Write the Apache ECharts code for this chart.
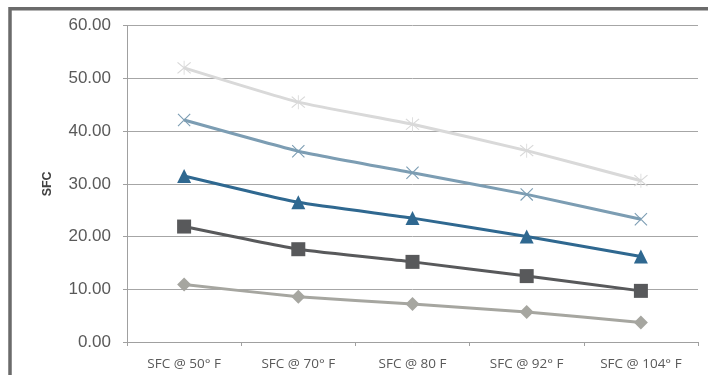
<!DOCTYPE html>
<html>
<head>
<meta charset="utf-8">
<script src="https://cdn.jsdelivr.net/npm/echarts@6/dist/echarts.min.js"></script>
<style>
  html, body { margin: 0; padding: 0; background: #ffffff; }
  #chart { width: 708px; height: 375px; }
</style>
</head>
<body>
<div id="chart"></div>
<script>
// Category labels along the x axis
const categories = ['SFC @ 50° F', 'SFC @ 70° F', 'SFC @ 80 F', 'SFC @ 92° F', 'SFC @ 104° F'];

// SFC values, one array per curve (top to bottom)
const seriesStar    = [52.0, 45.5, 41.3, 36.3, 30.6];
const seriesCross   = [42.1, 36.2, 32.1, 28.0, 23.3];
const seriesTri     = [31.5, 26.5, 23.5, 20.0, 16.2];
const seriesSquare  = [21.9, 17.6, 15.2, 12.5, 9.7];
const seriesDiamond = [10.9, 8.6, 7.2, 5.7, 3.7];

// Value axis range
const yMin = 0, yMax = 60, yStep = 10;

// Marker shapes
const crossPath = 'path://M0,1.2 L1.2,0 L20,18.8 L18.8,20 Z M18.8,0 L20,1.2 L1.2,20 L0,18.8 Z';
const starPath = 'path://M0,1.2 L1.2,0 L20,18.8 L18.8,20 Z M18.8,0 L20,1.2 L1.2,20 L0,18.8 Z M9.4,-2 L10.6,-2 L10.6,22 L9.4,22 Z';

function line(name, data, color, symbol, size) {
  return {
    name: name,
    type: 'line',
    data: data,
    smooth: 0.15,
    symbol: symbol,
    symbolSize: size,
    showSymbol: true,
    lineStyle: { color: color, width: 3 },
    itemStyle: { color: color, borderWidth: 0 },
    z: 3
  };
}

const chart = echarts.init(document.getElementById('chart'), null, { renderer: 'canvas' });
chart.setOption({
  animation: false,
  backgroundColor: '#ffffff',
  graphic: [{
    type: 'rect',
    shape: { x: 10, y: 8.7, width: 900, height: 600 },
    style: { fill: 'none', stroke: '#6b6b6b', lineWidth: 3.5 },
    silent: true
  }],
  grid: { left: 127, right: 10, top: 25.7, bottom: 33 },
  xAxis: {
    type: 'category',
    data: categories,
    boundaryGap: true,
    axisLine: { lineStyle: { color: '#a0a0a0', width: 1 } },
    axisTick: { show: true, length: 4, lineStyle: { color: '#a0a0a0' } },
    axisLabel: {
      color: '#595959', fontSize: 13.5, fontFamily: 'Open Sans, Noto Sans, sans-serif',
      margin: 15, interval: 0
    },
    splitLine: { show: false }
  },
  yAxis: {
    type: 'value',
    min: yMin, max: yMax, interval: yStep,
    name: 'SFC',
    nameLocation: 'middle',
    nameGap: 73,
    nameRotate: 90,
    nameTextStyle: { color: '#404040', fontSize: 12.5, fontWeight: 'bold', fontFamily: 'Liberation Sans, Arial, sans-serif' },
    axisLine: { show: true, lineStyle: { color: '#a0a0a0', width: 1 } },
    axisTick: { show: true, length: 4, lineStyle: { color: '#a0a0a0' } },
    axisLabel: {
      color: '#595959', fontSize: 17, fontFamily: 'Liberation Sans, Arial, sans-serif',
      margin: 16,
      formatter: v => v.toFixed(2)
    },
    splitLine: { show: true, lineStyle: { color: '#a6a6a6', width: 1 } }
  },
  series: [
    line('A', seriesStar, '#d9d9d9', starPath, 14),
    line('B', seriesCross, '#7c9db3', crossPath, 13),
    line('C', seriesTri, '#2f6890', 'triangle', 14),
    line('D', seriesSquare, '#58595b', 'rect', 14),
    line('E', seriesDiamond, '#a6a6a0', 'diamond', 14)
  ]
});
</script>
</body>
</html>
